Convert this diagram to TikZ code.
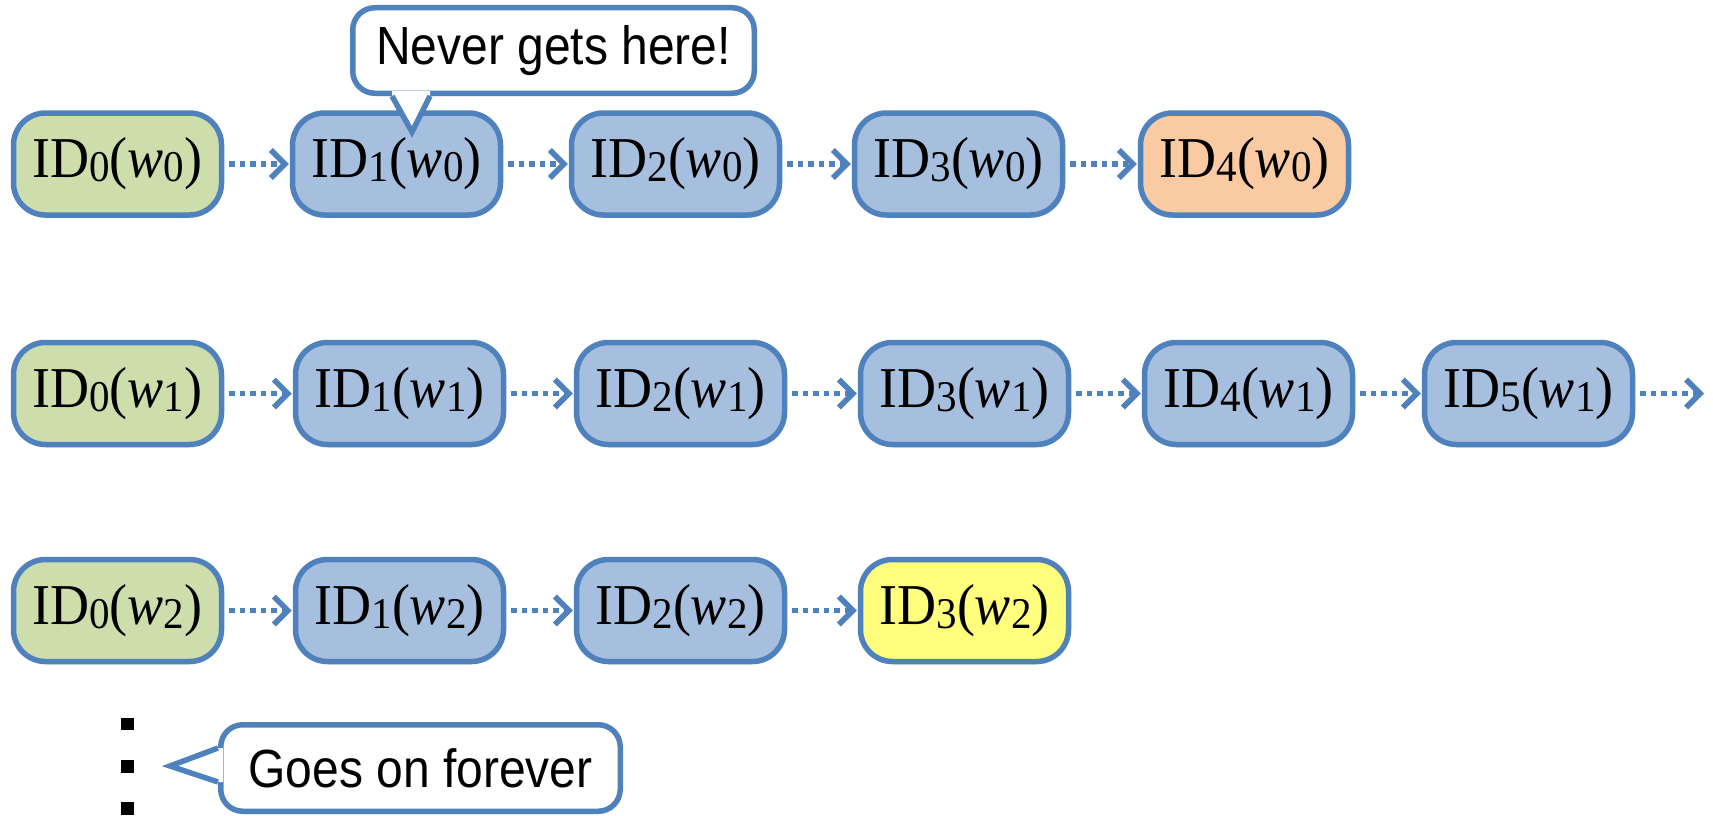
\documentclass[tikz,border=0pt]{standalone}
\usepackage{fontspec}
\setmainfont{Liberation Serif}
\newfontfamily\calloutfont{Liberation Sans}
\usetikzlibrary{arrows.meta,shadows}
\definecolor{bordblue}{RGB}{79,129,189}
\definecolor{fillblue}{RGB}{167,191,222}
\definecolor{fillgreen}{RGB}{206,221,172}
\definecolor{fillorange}{RGB}{250,203,163}
\definecolor{fillyellow}{RGB}{255,255,125}
\newcommand{\sbs}[1]{\raisebox{-0.07em}{\fontsize{41}{41}\selectfont #1}}
\newcommand{\idw}[2]{\scalebox{1}[1.07]{ID\sbs{#1}(\textit{w}\sbs{#2})}}
\newcommand{\tallc}[1]{\scalebox{1}[1.12]{#1}}
\tikzset{
  x=1pt,y=-1pt,
  idbox/.style={draw=bordblue, line width=5.5pt, rounded corners=32pt,
    minimum width=208pt, minimum height=102pt, inner sep=0pt,
    font=\fontsize{54}{64}\selectfont,
    drop shadow={shadow xshift=0pt, shadow yshift=-3pt, opacity=0.15}},
  bluebox/.style={idbox, fill=fillblue},
  greenbox/.style={idbox, fill=fillgreen},
  orangebox/.style={idbox, fill=fillorange},
  yellowbox/.style={idbox, fill=fillyellow},
  conn/.style={draw=bordblue, line width=5.5pt, dash pattern=on 5.5pt off 5pt,
    shorten <=5pt, shorten >=1pt,
    -{Straight Barb[length=14pt,width=28pt,line width=5.5pt]}},
  callbox/.style={draw=bordblue, fill=white, line width=5.5pt, rounded corners=22pt,
    inner sep=0pt, font=\calloutfont\fontsize{48}{58}\selectfont,
    drop shadow={shadow xshift=0pt, shadow yshift=-3pt, opacity=0.12}},
  pointerline/.style={draw=bordblue, line width=5.5pt, line join=miter},
}
\begin{document}
\begin{tikzpicture}
\useasboundingbox (0,0) rectangle (1713,816);
% row 1
\node[greenbox]  (a0) at (117.5,164) {\idw{0}{0}};
\node[bluebox]   (a1) at (396.5,164) {\idw{1}{0}};
\node[bluebox]   (a2) at (675.5,164) {\idw{2}{0}};
\node[bluebox]   (a3) at (958.5,164) {\idw{3}{0}};
\node[orangebox] (a4) at (1244.5,164) {\idw{4}{0}};
\draw[conn] (a0) -- (a1);
\draw[conn] (a1) -- (a2);
\draw[conn] (a2) -- (a3);
\draw[conn] (a3) -- (a4);
% row 2
\node[greenbox] (b0) at (117.5,393.5) {\idw{0}{1}};
\node[bluebox]  (b1) at (399.5,393.5) {\idw{1}{1}};
\node[bluebox]  (b2) at (680.5,393.5) {\idw{2}{1}};
\node[bluebox]  (b3) at (964.5,393.5) {\idw{3}{1}};
\node[bluebox]  (b4) at (1248.5,393.5) {\idw{4}{1}};
\node[bluebox]  (b5) at (1528.5,393.5) {\idw{5}{1}};
\coordinate (bend) at (1704,393.5);
\draw[conn] (b0) -- (b1);
\draw[conn] (b1) -- (b2);
\draw[conn] (b2) -- (b3);
\draw[conn] (b3) -- (b4);
\draw[conn] (b4) -- (b5);
\draw[conn, shorten >=0pt] (b5) -- (bend);
% row 3
\node[greenbox]  (c0) at (117.5,610.5) {\idw{0}{2}};
\node[bluebox]   (c1) at (399.5,610.5) {\idw{1}{2}};
\node[bluebox]   (c2) at (680.5,610.5) {\idw{2}{2}};
\node[yellowbox] (c3) at (964.5,610.5) {\idw{3}{2}};
\draw[conn] (c0) -- (c1);
\draw[conn] (c1) -- (c2);
\draw[conn] (c2) -- (c3);
% callout 1
\node[callbox, minimum width=401.5pt, minimum height=85.5pt] (n1) at (553.5,50.5) {\tallc{Never gets here!}};
\fill[white] (392,91) -- (392,96) -- (412,132) -- (430,96) -- (430,91) -- cycle;
\draw[pointerline] (392,96) -- (412,132) -- (430,96);
% dots
\fill (121,718) rectangle (134,730);
\fill (121,760) rectangle (134,773);
\fill (121,802) rectangle (134,815);
% callout 2
\node[callbox, minimum width=399.5pt, minimum height=86.5pt] (n2) at (420.5,768) {\tallc{Goes on forever}};
\fill[white] (223,748) -- (218,748) -- (170,766) -- (218,782) -- (223,782) -- cycle;
\draw[pointerline] (218,748) -- (170,766) -- (218,782);
\end{tikzpicture}
\end{document}
